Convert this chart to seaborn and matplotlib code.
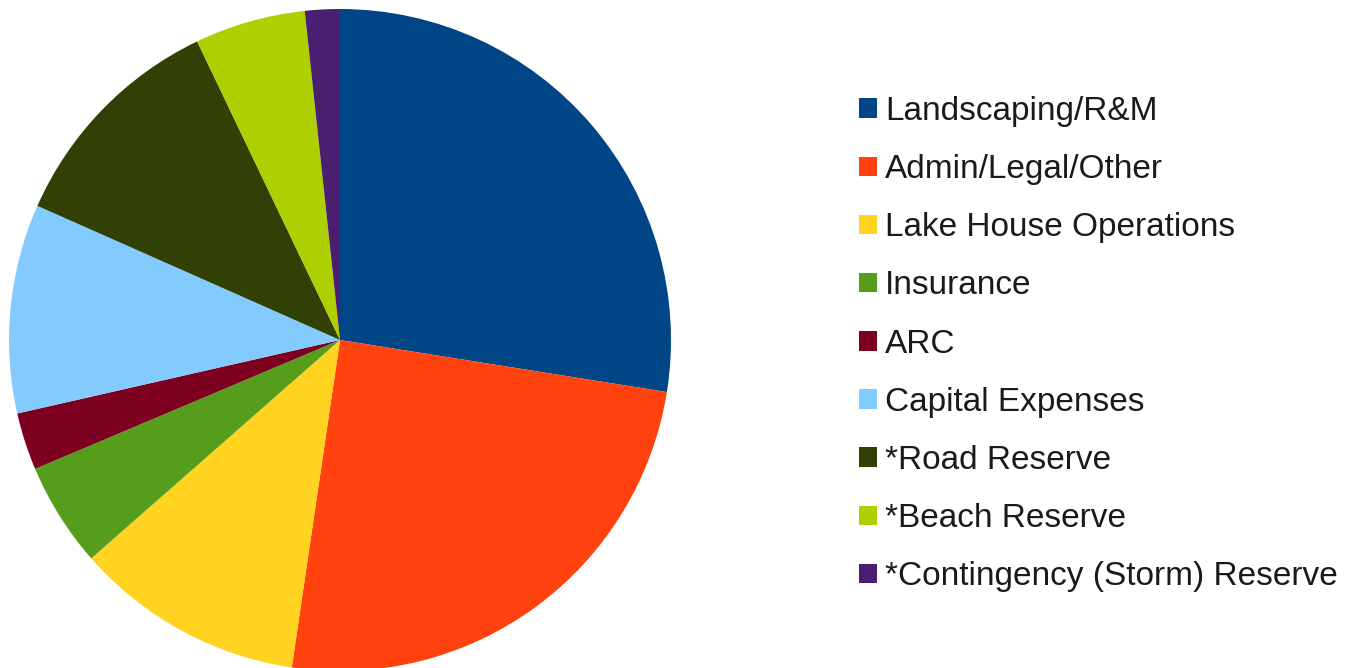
import matplotlib
matplotlib.use("Agg")
import matplotlib.pyplot as plt
from matplotlib.patches import Patch
import seaborn as sns

# budget share per category (percent)
categories = ["Landscaping/R&M", "Admin/Legal/Other", "Lake House Operations",
              "Insurance", "ARC", "Capital Expenses", "*Road Reserve",
              "*Beach Reserve", "*Contingency (Storm) Reserve"]
shares = [27.5, 24.8, 11.2, 5.1, 2.8, 10.2, 11.25, 5.4, 1.7]
colors = ["#004586", "#ff420e", "#ffd320", "#579d1c", "#7e0021",
          "#83caff", "#314004", "#aecf00", "#4b1f6f"]

sns.set_theme(style="white")
plt.rcParams['font.family'] = ['Liberation Sans', 'DejaVu Sans']

W, H = 1364, 668
fig = plt.figure(figsize=(W / 100, H / 100), dpi=100)
fig.patch.set_facecolor("white")

# pie centred at (340, 340) px, radius ~331 px
cx, cy, r = 340, 340, 331
ax = fig.add_axes([(cx - r) / W, (H - cy - r) / H, 2 * r / W, 2 * r / H])
pal = sns.color_palette(colors)
ax.pie(shares, colors=pal, startangle=90, counterclock=False,
       wedgeprops=dict(linewidth=0))
ax.set_aspect("equal")
ax.set_xlim(-1, 1)
ax.set_ylim(-1, 1)
ax.axis("off")

handles = [Patch(facecolor=c, edgecolor="none") for c in pal]
fig.legend(handles, categories, loc="upper left",
           bbox_to_anchor=(859 / W, 1 - 96 / H), frameon=False,
           fontsize=24, labelcolor="#1a1a1a",
           handlelength=0.54, handleheight=0.52, handletextpad=0.24,
           labelspacing=0.815, borderpad=0, borderaxespad=0)

fig.savefig("out.png", dpi=100, facecolor="white")
